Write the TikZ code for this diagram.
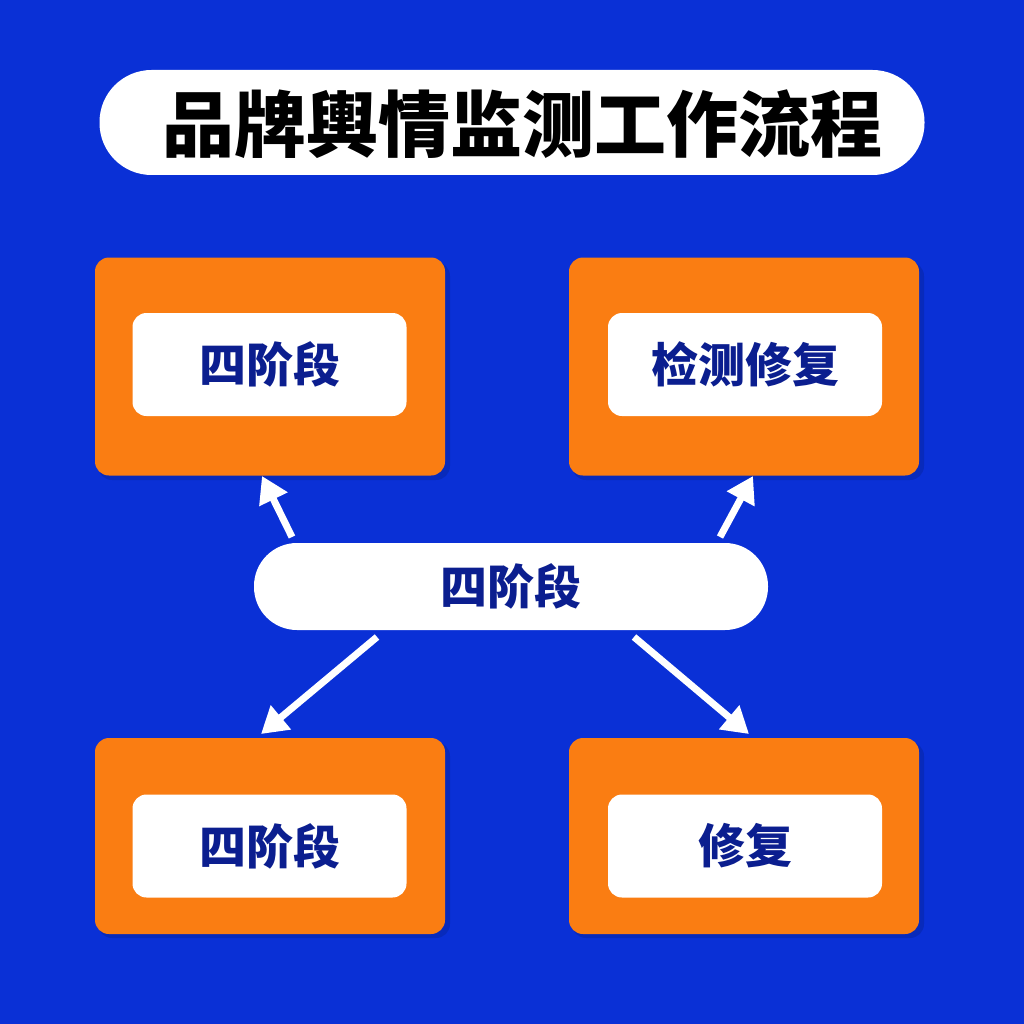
\documentclass[tikz,border=0pt]{standalone}
\usepackage{fontspec}
\newfontfamily\cjk{Noto Sans CJK SC}
\usetikzlibrary{arrows.meta}
\definecolor{bgblue}{HTML}{0A30D6}
\definecolor{boxorange}{HTML}{FA7D12}
\definecolor{navy}{HTML}{0B1E8F}
\tikzset{
  outerbox/.style={fill=boxorange, rounded corners=14pt, minimum width=350pt, inner sep=0pt},
  innerbox/.style={fill=white, rounded corners=14pt, minimum width=274pt, minimum height=103pt, inner sep=0pt,
    font=\cjk\bfseries\fontsize{47}{50}\selectfont, text=navy},
  pill/.style={fill=white, rounded corners=43pt, inner sep=0pt},
  shade/.style={fill=black, opacity=0.12, rounded corners=14pt},
  flow/.style={draw=white, line width=7pt, -{Triangle[width=30pt,length=26pt]}}
}
\begin{document}
\begin{tikzpicture}[x=1pt,y=-1pt]
\useasboundingbox (0,0) rectangle (1024,1024);
\fill[bgblue] (0,0) rectangle (1024,1024);
% title
\node[pill, rounded corners=52pt, minimum width=825pt, minimum height=105pt] (title) at (512,122.5) {};
\node[font=\cjk\bfseries\fontsize{72}{76}\selectfont, text=black, anchor=center] (titletext) at (522,124) {品牌輿情监测工作流程};
% shadows
\fill[shade] (98,262) rectangle (450,480);
\fill[shade] (572,262) rectangle (924,480);
\fill[shade] (98,742) rectangle (450,938);
\fill[shade] (572,742) rectangle (924,938);
% outer boxes
\node[outerbox, minimum height=218pt] (tl) at (270,366.5) {};
\node[outerbox, minimum height=218pt] (tr) at (744,366.5) {};
\node[outerbox, minimum height=196pt] (bl) at (270,836) {};
\node[outerbox, minimum height=196pt] (br) at (744,836) {};
% inner boxes
\node[innerbox] (tli) at (269.5,364.5) {四阶段};
\node[innerbox] (tri) at (745,364.5) {检测修复};
\node[innerbox] (bli) at (269.5,846) {四阶段};
\node[innerbox] (bri) at (745,846) {修复};
% center pill
\node[pill, minimum width=514pt, minimum height=87pt, font=\cjk\bfseries\fontsize{47}{50}\selectfont, text=navy] (center) at (511,586.5) {四阶段};
% arrow endpoints
\coordinate (a1s) at (292,537);
\coordinate (a1e) at (262,476);
\coordinate (a2s) at (720,537);
\coordinate (a2e) at (753,476);
\coordinate (a3s) at (377,637);
\coordinate (a3e) at (261,734);
\coordinate (a4s) at (634,637);
\coordinate (a4e) at (749,734);
\draw[flow] (a1s) -- (a1e);
\draw[flow] (a2s) -- (a2e);
\draw[flow] (a3s) -- (a3e);
\draw[flow] (a4s) -- (a4e);
\end{tikzpicture}
\end{document}
